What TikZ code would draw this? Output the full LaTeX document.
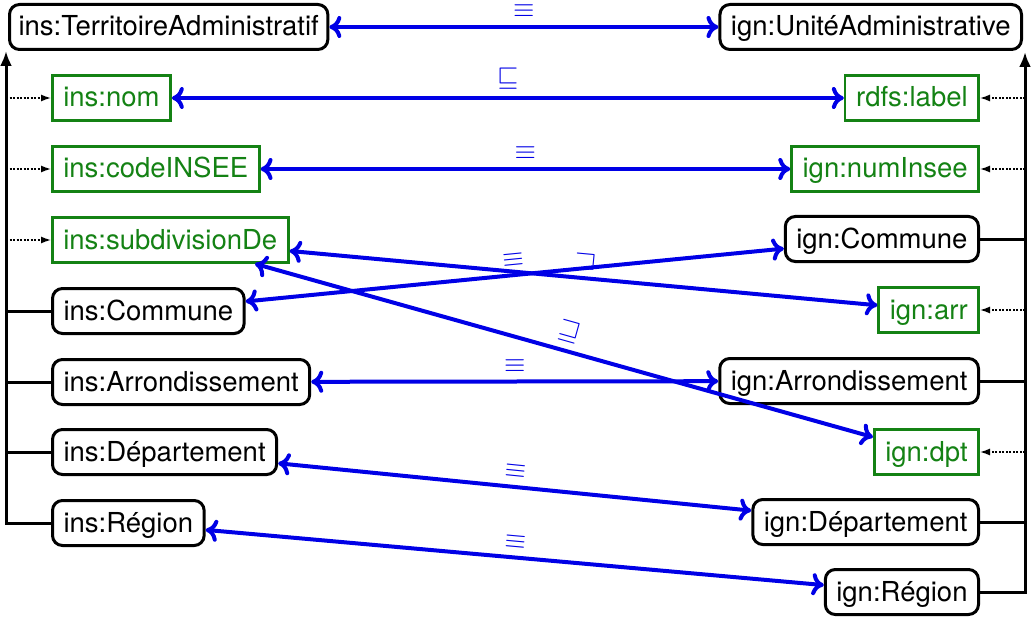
\RequirePackage{fix-cm}
\documentclass[tikz,border=0pt]{standalone}
\usepackage{amssymb}
\usepackage{fontspec}
\setmainfont{TeX Gyre Heros}
\usetikzlibrary{arrows.meta,calc}
\definecolor{dgreen}{RGB}{20,130,20}
\definecolor{eblue}{RGB}{0,0,230}
\begin{document}
\begin{tikzpicture}[x=1pt,y=-1pt,
  font=\fontsize{27.5}{30}\selectfont,
  cls/.style={draw, line width=3pt, rounded corners=10pt, text height=21.5pt, text depth=3.5pt, inner xsep=11pt, inner ysep=10pt},
  prop/.style={draw=dgreen, text=dgreen, line width=2.6pt, text height=21.5pt, text depth=3.5pt, inner xsep=11pt, inner ysep=10pt},
  map/.style={eblue, line width=4pt, {Computer Modern Rightarrow[length=12pt,width=22pt]}-{Computer Modern Rightarrow[length=12pt,width=22pt]}},
  rel/.style={midway, sloped, above, inner sep=7pt, text=eblue},
  sub/.style={line width=3pt, -{Latex[length=15pt,width=12pt]}},
  br/.style={line width=3pt},
  dom/.style={line width=1.4pt, dash pattern=on 2pt off 1.5pt, -{Latex[length=10pt,width=7pt]}},
]
\useasboundingbox (0,0) rectangle (1032,620);

\node[cls, anchor=west, inner xsep=9pt] (insTA) at (8,27) {ins:TerritoireAdministratif};
\node[cls, anchor=east] (ignUA) at (1023,27) {ign:UnitéAdministrative};
\node[prop, anchor=west] (insNom) at (51,98) {ins:nom};
\node[prop, anchor=east] (rdfsLabel) at (980,98) {rdfs:label};
\node[prop, anchor=west] (insCode) at (51,169) {ins:codeINSEE};
\node[prop, anchor=east] (ignNum) at (980,169) {ign:numInsee};
\node[prop, anchor=west] (insSub) at (51,240) {ins:subdivisionDe};
\node[cls, anchor=east] (ignCom) at (980,239) {ign:Commune};
\node[cls, anchor=west] (insCom) at (51,311) {ins:Commune};
\node[prop, anchor=east] (ignArr) at (980,310) {ign:arr};
\node[cls, anchor=west] (insArd) at (51,382) {ins:Arrondissement};
\node[cls, anchor=east] (ignArd) at (980,381) {ign:Arrondissement};
\node[cls, anchor=west] (insDep) at (51,452) {ins:Département};
\node[prop, anchor=east] (ignDpt) at (980,452) {ign:dpt};
\node[cls, anchor=west] (insReg) at (51,523) {ins:Région};
\node[cls, anchor=east] (ignDep) at (980,522) {ign:Département};
\node[cls, anchor=east] (ignReg) at (980,592) {ign:Région};

\coordinate (lt) at (6,51);
\coordinate (rt) at (1025,52);

% left hierarchy
\draw[sub] (insReg.west) -| (lt);
\draw[br] (insCom.west) -- (insCom.west -| lt);
\draw[br] (insArd.west) -- (insArd.west -| lt);
\draw[br] (insDep.west) -- (insDep.west -| lt);
\draw[dom] (insNom.west -| lt) -- (insNom.west);
\draw[dom] (insCode.west -| lt) -- (insCode.west);
\draw[dom] (insSub.west -| lt) -- (insSub.west);

% right hierarchy
\draw[sub] (ignReg.east) -| (rt);
\draw[br] (ignCom.east) -- (ignCom.east -| rt);
\draw[br] (ignArd.east) -- (ignArd.east -| rt);
\draw[br] (ignDep.east) -- (ignDep.east -| rt);
\draw[dom] (rdfsLabel.east -| rt) -- (rdfsLabel.east);
\draw[dom] (ignNum.east -| rt) -- (ignNum.east);
\draw[dom] (ignArr.east -| rt) -- (ignArr.east);
\draw[dom] (ignDpt.east -| rt) -- (ignDpt.east);

% mappings
\draw[map] (insTA) -- node[rel]{$\equiv$} (ignUA);
\draw[map] (insNom) -- node[rel]{$\sqsubseteq$} (rdfsLabel);
\draw[map] (insCode) -- node[rel]{$\equiv$} (ignNum);
\draw[map] (insCom) -- node[rel]{$\equiv$} (ignCom);
\draw[map] (insSub) -- node[rel]{$\sqsupset$} (ignArr);
\draw[map] (insSub) -- node[rel]{$\sqsupseteq$} (ignDpt);
\draw[map] (insArd) -- node[rel]{$\equiv$} (ignArd);
\draw[map] (insDep) -- node[rel]{$\equiv$} (ignDep);
\draw[map] (insReg) -- node[rel]{$\equiv$} (ignReg);
\end{tikzpicture}
\end{document}
